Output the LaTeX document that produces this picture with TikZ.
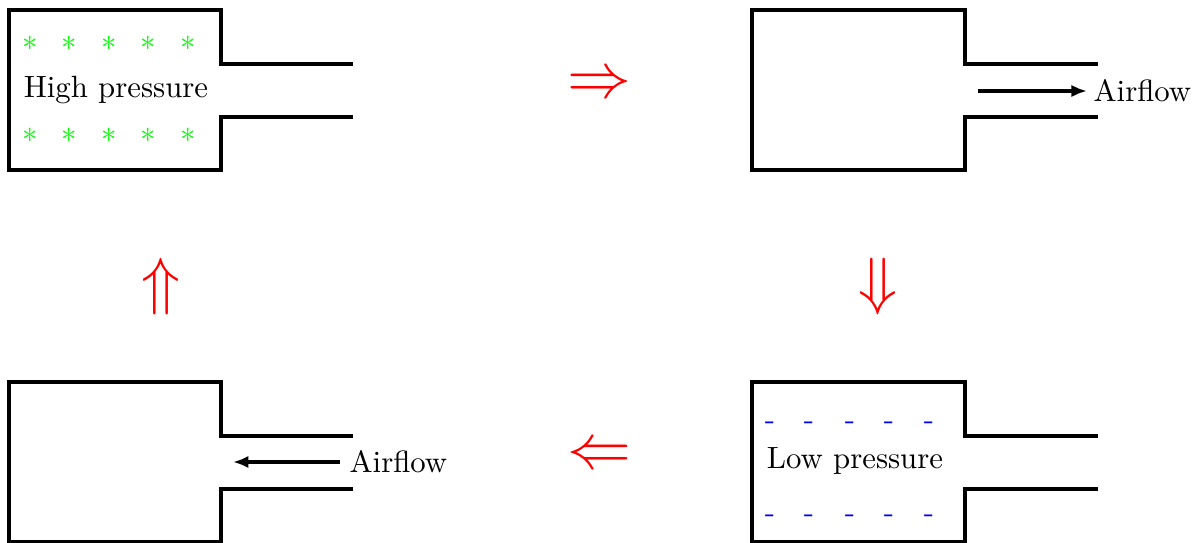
\documentclass[tikz,border=0pt]{standalone}
\usetikzlibrary{arrows.meta}
\begin{document}
\begin{tikzpicture}[x=0.325pt,y=-0.325pt,
  wall/.style={line width=1pt,line join=miter},
  flow/.style={line width=1pt,-{Latex[length=5pt,width=4pt]}},
  cyc/.style={text=red,font=\huge,inner sep=0pt},
  star/.style={text=green,inner sep=0pt},
  dsh/.style={text=blue,inner sep=0pt},
  lbl/.style={inner sep=0pt}]
\useasboundingbox (0,0) rectangle (1201,542);

% chamber outlines with their nozzles
\draw[wall] (353,64) -- (221,64) -- (221,10) -- (9,10) -- (9,170) -- (221,170) -- (221,117) -- (353,117);
\draw[wall] (1098,64) -- (965,64) -- (965,10) -- (752,10) -- (752,170) -- (965,170) -- (965,117) -- (1098,117);
\draw[wall] (1098,436) -- (965,436) -- (965,382) -- (752,382) -- (752,542) -- (965,542) -- (965,489) -- (1098,489);
\draw[wall] (353,436) -- (221,436) -- (221,382) -- (9,382) -- (9,542) -- (221,542) -- (221,489) -- (353,489);

% high pressure chamber
\foreach \i/\x in {1/30,2/69,3/109,4/148,5/188}{
  \node[star] (st\i) at (\x,43) {$*$};
  \node[star] (sb\i) at (\x,135) {$*$};
}
\node[lbl] (high) at (116,90) {High pressure};

% low pressure chamber
\foreach \i/\x in {1/770,2/809,3/850,4/889,5/929}{
  \node[dsh] (dt\i) at (\x,426) {-};
  \node[dsh] (db\i) at (\x,519) {-};
}
\node[lbl] (low) at (855,461) {Low pressure};

% airflow out of the nozzle
\node[lbl,anchor=west] (airR) at (1093,91) {Airflow};
\coordinate (airRs) at (978,91);
\draw[flow] (airRs) -- ([xshift=-2pt]airR.west);

% airflow into the nozzle
\node[lbl,anchor=west] (airL) at (349,462) {Airflow};
\coordinate (airLe) at (233,462);
\draw[flow] ([xshift=-3pt]airL.west) -- (airLe);

% cycle arrows
\node[cyc] (c1) at (599,86) {$\Rightarrow$};
\node[cyc] (c2) at (878,287) {$\Downarrow$};
\node[cyc] (c3) at (599,457) {$\Leftarrow$};
\node[cyc] (c4) at (161,287) {$\Uparrow$};
\end{tikzpicture}
\end{document}
